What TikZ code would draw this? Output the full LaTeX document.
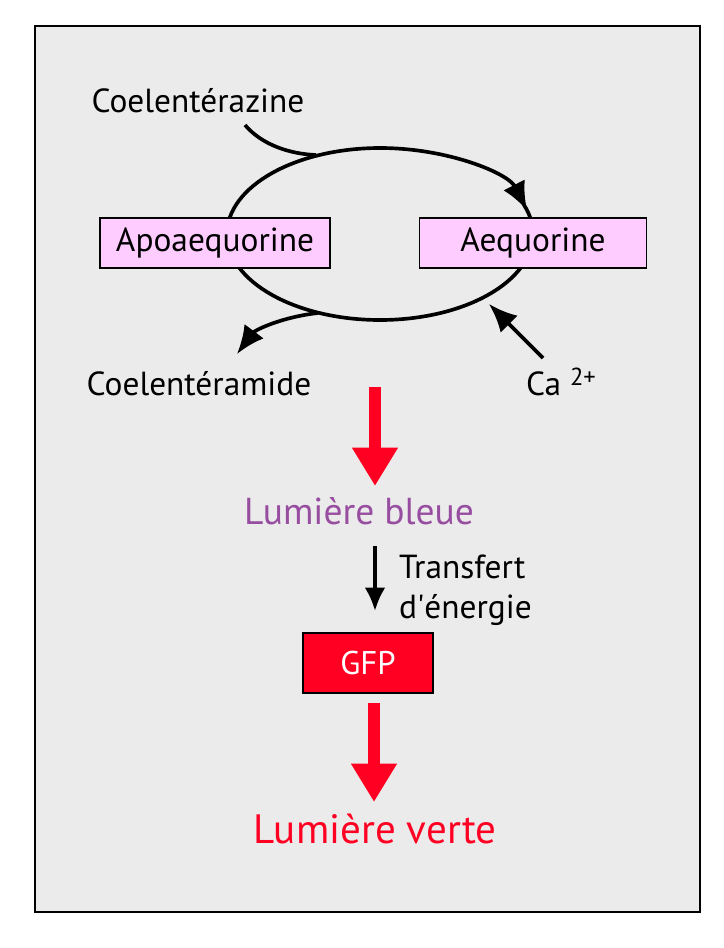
\documentclass[tikz,border=0pt]{standalone}
\usepackage{fontspec}
\setmainfont{PT Sans}
\usetikzlibrary{positioning}
\usetikzlibrary{arrows.meta}
\usetikzlibrary{calc}
\definecolor{color-inside}{RGB}{235,235,235}
\definecolor{color-box}{RGB}{255,204,255}
\definecolor{color-red}{RGB}{255,0,35}
\definecolor{color-blue}{RGB}{152,78,160}

\begin{document}
\begin{tikzpicture}[x=0.03cm, y=-0.03cm, font=\fontsize{28.5}{34}\selectfont,
box/.style={draw, line width=0.05cm, fill=color-box, minimum height=1.5cm, inner sep=0pt},
cycleline/.style={line width=0.11cm},
blackarrow/.style={line width=0.11cm, -{Latex[length=0.85cm, width=0.72cm]}},
redarrow/.style={line width=0.38cm, color-red, -{Triangle[length=1.15cm, width=1.3cm]}}]
\useasboundingbox (0,0) rectangle (723,948);
% frame
\draw[line width=0.07cm, fill=color-inside] (35,26) rectangle (700,912);

% cycle
\coordinate (c) at (380,234);
\draw[blackarrow] ($(c)+(-153,0)$) arc[start angle=180, end angle=344, x radius=153, y radius=86];
\draw[cycleline] ($(c)+(153,0)$) arc[start angle=0, end angle=180, x radius=153, y radius=86];
\draw[cycleline] ($(c)+(153,0)$) arc[start angle=0, end angle=-20, x radius=153, y radius=86];

% boxes, over the cycle
\node [box, minimum width=6.9cm](apo) at (215,243) {Apoaequorine};
\node [box, minimum width=6.8cm](aeq) at (533,243) {Aequorine};

% substrate in and out
\node (coelz) at (198,101) {Coelentérazine};
\node (coelm) at (199,384) {Coelentéramide};
\coordinate (in) at (245,125);
\coordinate (join) at (316,155);
\coordinate (split) at (318,313);
\draw[cycleline] (in) .. controls (262,145) and (290,154) .. (join);
\draw[blackarrow] (split) .. controls (282,317) and (255,330) .. (237,354);

% calcium
\node (ca) at (561,382) {Ca \raisebox{0.55ex}{\fontsize{21}{21}\selectfont 2+}};
\coordinate (cafix) at (543,358);
\coordinate (catip) at (489,304);
\draw[blackarrow] (cafix) -- (catip);

% light
\coordinate (r1) at (375,387);
\node [color-blue, font=\fontsize{32}{36}\selectfont](bleue) at (359,511) {Lumière bleue};
\draw[redarrow] (r1) -- (r1 |- 0,486);

\coordinate (t1) at (375,546);
\node [right = 0.6cm of t1, anchor=north west, align=left, yshift=-0.15cm](transfert) {Transfert\\d\textquotesingle énergie};
\node [draw, line width=0.05cm, fill=color-red, text=white, minimum width=3.9cm, minimum height=1.8cm,
font=\fontsize{28}{32}\selectfont](gfp) at (368,663) {GFP};
\draw[blackarrow, -{Latex[length=0.7cm, width=0.62cm]}] (t1) -- (t1 |- 0,611);

\node [color-red, font=\fontsize{35}{40}\selectfont](verte) at (375,829) {Lumière verte};
\coordinate (r2) at (374,703);
\draw[redarrow] (r2) -- (r2 |- 0,802);
\end{tikzpicture}
\end{document}
